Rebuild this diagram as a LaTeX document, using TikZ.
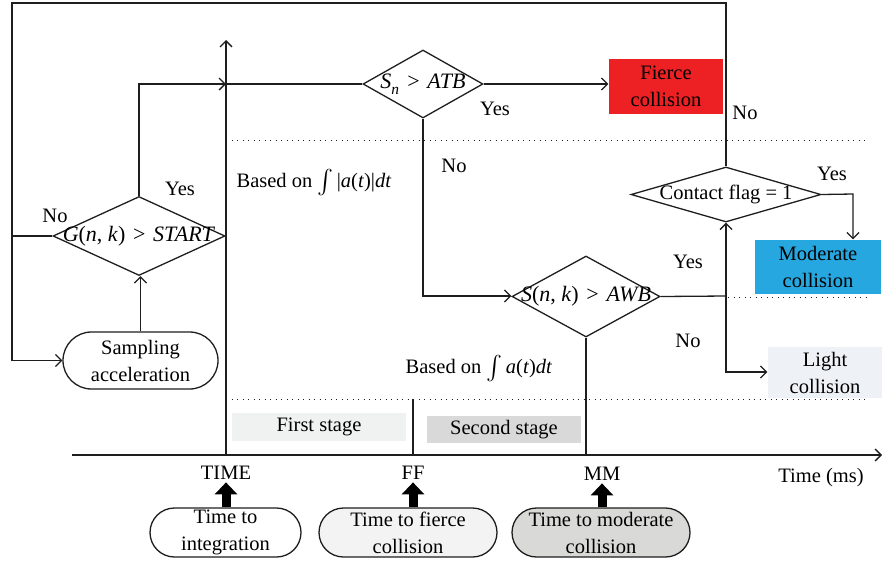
\documentclass[tikz,border=0pt]{standalone}
\usepackage{fontspec}
\usepackage{unicode-math}
\setmainfont{Liberation Serif}
\setmathfont{Latin Modern Math}
\usetikzlibrary{shapes.geometric,shapes.misc,arrows.meta}
\definecolor{fiercered}{RGB}{237,33,36}
\definecolor{modblue}{RGB}{39,167,223}
\definecolor{lightbg}{RGB}{238,242,246}
\definecolor{firstbg}{RGB}{240,242,241}
\definecolor{secondbg}{RGB}{217,217,217}
\definecolor{pillfierce}{RGB}{242,243,242}
\definecolor{pillmod}{RGB}{217,217,215}
\definecolor{linegray}{RGB}{30,30,30}
\newcommand{\vi}[1]{\textit{#1}}
\newcommand{\integ}{\raisebox{-0.2ex}{\fontsize{24}{24}\selectfont$\int$}\,}
\newcommand{\gtsp}{\hspace{0.35em}>\hspace{0.35em}}
\tikzset{
  txt/.style={font=\fontsize{20.5}{27}\selectfont, inner sep=0pt, text=black},
  mtxt/.style={font=\fontsize{22}{27}\selectfont, inner sep=0pt, text=black},
  dia/.style={diamond, draw=linegray, inner sep=0pt},
  colbox/.style={rectangle, inner sep=0pt, txt, align=center},
  pill/.style={rounded rectangle, draw=linegray, inner sep=0pt, txt, align=center},
  arr/.style={-{Straight Barb[length=6pt,width=12pt]}},
  fat/.style={line width=9pt, -{Triangle[length=12pt,width=22pt]}},
  dots/.style={line width=1pt, dash pattern=on 1pt off 4.5pt, draw=linegray}
}
\begin{document}
\begin{tikzpicture}[x=1pt,y=-1pt,line width=1.3pt,draw=linegray]
\useasboundingbox (0,0) rectangle (882,563);

% frame coordinates
\coordinate (frtr) at (726,3);
\coordinate (frtl) at (12,3);
\coordinate (t0) at (226,455);
\coordinate (ttop) at (226,40);
\coordinate (tyes) at (226,84);
\coordinate (xstart) at (72,455);
\coordinate (xend) at (882,455);
\coordinate (snturn) at (423,296);
\coordinate (jn) at (726,296);
\coordinate (jl) at (726,372);
\coordinate (cturn) at (853,194);
\coordinate (ffbot) at (413,455);
\coordinate (fftop) at (413,399);
\coordinate (d1a) at (226,140);
\coordinate (d1b) at (866,140);
\coordinate (d2a) at (728,297);
\coordinate (d2b) at (866,297);
\coordinate (d3a) at (226,399);
\coordinate (d3b) at (866,399);

% colored boxes
\node[colbox, fill=fiercered, minimum width=114pt, minimum height=55pt] (fierce) at (666,86.5) {Fierce\\collision};
\node[colbox, fill=modblue, minimum width=126pt, minimum height=54pt] (moderate) at (818,267) {Moderate\\collision};
\node[colbox, fill=lightbg, minimum width=114pt, minimum height=51pt] (light) at (825,372.5) {Light\\collision};
\node[colbox, fill=firstbg, minimum width=174pt, minimum height=28pt] (first) at (319,427) {First stage};
\node[colbox, fill=secondbg, minimum width=154pt, minimum height=27pt] (second) at (504,429.5) {Second stage};

% diamonds
\node[dia, mtxt, minimum width=172pt, minimum height=79pt] (g) at (139,236) {\makebox[0pt]{\vi{G}(\vi{n}, \vi{k})\gtsp\vi{START}}};
\node[dia, mtxt, minimum width=120pt, minimum height=68pt] (sn) at (423,84) {\makebox[0pt]{\vi{S}\textsubscript{\vi{n}}\gtsp\vi{ATB}}};
\node[dia, mtxt, minimum width=148pt, minimum height=81pt] (snk) at (586,296.5) {\makebox[0pt]{\vi{S}(\vi{n}, \vi{k})\gtsp\vi{AWB}}};
\node[dia, txt, minimum width=190pt, minimum height=55pt] (contact) at (726,194.5) {\makebox[0pt]{Contact flag = 1}};

% pills
\node[pill, fill=white, minimum width=155pt, minimum height=57pt] (samp) at (140.5,360.5) {Sampling\\acceleration};
\node[pill, fill=white, minimum width=151pt, minimum height=49pt] (pint) at (225.5,532.5) {Time to\\integration};
\node[pill, fill=pillfierce, minimum width=178pt, minimum height=49pt] (pff) at (408,532.5) {Time to fierce\\collision};
\node[pill, fill=pillmod, minimum width=178pt, minimum height=49pt] (pmm) at (601,532.5) {Time to moderate\\collision};

% labels
\node[txt] (lgno) at (55,216) {No};
\node[txt] (lgyes) at (180,189) {Yes};
\node[txt] (lsnyes) at (495,109) {Yes};
\node[txt] (lsnno) at (454,166) {No};
\node[txt] (lfno) at (745,113) {No};
\node[txt] (lcyes) at (832,174) {Yes};
\node[txt] (ljyes) at (688,262) {Yes};
\node[txt] (ljno) at (688,341) {No};
\node[txt] (based1) at (314,183) {Based on \integ|\vi{a}(\vi{t})|\vi{dt}};
\node[txt] (based2) at (479,369) {Based on \integ\vi{a}(\vi{t})\vi{dt}};
\node[txt] (ltime) at (226,473) {TIME};
\node[txt] (lff) at (413,473) {FF};
\node[txt] (lmm) at (602,474) {MM};
\node[txt] (lms) at (821,478) {Time (ms)};

% dotted lines
\draw[dots] (d1a) -- (d1b);
\draw[dots] (d2a) -- (d2b);
\draw[dots] (d3a) -- (d3b);

% time axes
\draw[arr] (t0) -- (ttop);
\draw[arr] (xstart) -- (xend);
\draw (fftop) -- (ffbot);

% flow
\draw[arr] (contact.north) -- (frtr) -- (frtl) -- (samp.west -| frtl) -- (samp.west);
\draw (g.west) -- (g.west -| frtl);
\draw[arr] (samp.north) -- (samp.north |- g.south);
\draw[arr] (g.north) -- (g.north |- tyes) -- (tyes);
\draw (tyes) -- (sn.west);
\draw[arr] (sn.east) -- (sn.east -| fierce.west);
\draw[arr] (sn.south) -- (snturn) -- (snturn -| snk.west);
\draw (snk.east) -- (jn);
\draw[arr] (jn) -- (contact.south);
\draw[arr] (jn) -- (jl) -- (jl -| light.west);
\draw[arr] (contact.east) -- (cturn) -- (cturn |- moderate.north);
\draw (snk.south) -- (snk.south |- t0);

% fat arrows
\draw[fat, draw=black] (pint.north -| ltime) -- ([yshift=-2pt]ltime.south);
\draw[fat, draw=black] (pff.north -| lff) -- ([yshift=-2pt]lff.south);
\draw[fat, draw=black] (pmm.north -| lmm) -- ([yshift=-2pt]lmm.south);
\end{tikzpicture}
\end{document}
